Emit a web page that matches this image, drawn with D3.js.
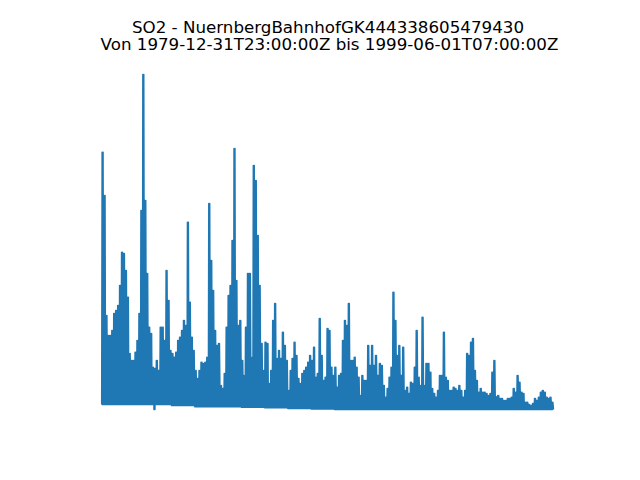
<!DOCTYPE html>
<html>
<head>
<meta charset="utf-8">
<script src="https://cdn.jsdelivr.net/npm/d3@7"></script>
<style>
  body { margin: 0; background: #fff; }
  svg { display: block; }
</style>
</head>
<body>
<div id="vis"></div>
<script>
// title text
const title1 = 'SO2 - NuernbergBahnhofGK444338605479430';
const title2 = 'Von 1979-12-31T23:00:00Z bis 1999-06-01T07:00:00Z';

const startDate = '1979-12-31T23:00:00Z';
const endDate = '1999-06-01T07:00:00Z';

// monthly maxima, Jan 1980 .. May 1999
const monthMax = [
  463, 385, 169, 133, 133, 142, 173, 178, 187, 223, 283, 281,   // 1980
  250, 202, 101,  88,  88, 103, 124, 173, 358, 603, 376, 245,   // 1981
  148, 137,  76,  74,  88,  70, 148, 148, 124, 250, 196, 106,   // 1982
  101,  94, 103, 124, 130, 142, 160, 151, 337, 193, 130, 106,   // 1983
   70,  56,  70,  85,  83,  85,  94, 371, 268, 214, 142, 115,   // 1984
  119,  43,  38,  65, 148, 205, 223, 304, 470, 232, 151, 160,   // 1985
   88,  61, 148, 245, 245,  94, 439, 412, 313, 223, 119,  70,   // 1986
  121, 119,  47,  70, 160, 191,  92, 106,  92, 139, 115,  88,   // 1987
   34,  70,  92, 121,  97,  56,  47,  65,  70,  76,  85,  97,   // 1988
   88, 112,  58,  65, 164,  97,  52,  58, 146, 142,  76,  61,   // 1989
   76,  40,  61,  65, 124, 160, 151, 191,  88,  88,  94,  76,   // 1990
   58,  25,  61,  52,  52, 115,  79, 115,  79,  97,  61,  83,   // 1991
   79,  43,  22,  38,  58,  76, 211, 160,  97, 115,  61, 112,   // 1992
   34,  40,  29,  49,  47,  76, 142,  58,  43, 166,  43,  83,   // 1993
   83,  67,  38,  29,  22,  34,  61,  61, 139,  58,  52,  34,   // 1994
   34,  40,  38,  34,  43,  34,  22,  34, 101,  97, 121, 128,   // 1995
   70,  52,  31,  38,  31,  31,  29,  25,  29,  67,  88,  23,   // 1996
   25,  20,  20,  16,  16,  20,  20,  22,  38,  31,  61,  49,   // 1997
   31,  29,  13,  13,   9,   7,  11,  20,  16,  22,  31,  34,   // 1998
   31,  22,  20,  22,  13                                       // 1999
];

// monthly minima
const monthMin = [
  9, 9, 9, 9, 9, 9, 9, 9, 9, 9, 9, 9,
  9, 9, 9, 9, 9, 9, 9, 9, 9, 9, 9, 9,
  9, 9, 9, 0, 9, 9, 9, 9, 9, 9, 9, 9,
  7, 7, 7, 7, 7, 7, 7, 7, 7, 7, 7, 7,
  5, 5, 5, 5, 5, 5, 5, 5, 5, 5, 5, 5,
  5, 5, 5, 5, 5, 5, 5, 5, 5, 5, 5, 5,
  4, 4, 4, 4, 4, 4, 4, 4, 4, 4, 4, 4,
  3, 3, 3, 3, 3, 3, 3, 3, 3, 3, 3, 3,
  2, 2, 2, 2, 2, 2, 2, 2, 2, 2, 2, 2,
  1, 1, 1, 1, 1, 1, 1, 1, 1, 1, 1, 1,
  0, 0, 0, 0, 0, 0, 0, 0, 0, 0, 0, 0,
  0, 0, 0, 0, 0, 0, 0, 0, 0, 0, 0, 0,
  0, 0, 0, 0, 0, 0, 0, 0, 0, 0, 0, 0,
  0, 0, 0, 0, 0, 0, 0, 0, 0, 0, 0, 0,
  0, 0, 0, 0, 0, 0, 0, 0, 0, 0, 0, 0,
  0, 0, 0, 0, 0, 0, 0, 0, 0, 0, 0, 0,
  0, 0, 0, 0, 0, 0, 0, 0, 0, 0, 0, 0,
  0, 0, 0, 0, 0, 0, 0, 0, 0, 0, 0, 0,
  0, 0, 0, 0, 0, 0, 0, 0, 0, 0, 0, 0,
  0, 0, 0, 0, 0
];

let width = 640;
let height = 480;

let svg = d3.select('#vis')
  .append('svg')
    .attr('width', width)
    .attr('height', height)
    .style('background-color', '#fff');

// build the series: each month swings between its minimum and maximum
// twice, so the dense hourly look of the original is kept
let series = [];
monthMax.forEach(function(v, i) {
  let y = 1980 + Math.floor(i / 12);
  let m = i % 12;
  series.push({ date: new Date(Date.UTC(y, m, 1)), value: monthMin[i] });
  series.push({ date: new Date(Date.UTC(y, m, 8)), value: v });
  series.push({ date: new Date(Date.UTC(y, m, 15)), value: monthMin[i] });
  series.push({ date: new Date(Date.UTC(y, m, 22)), value: v });
});
series.unshift({ date: new Date(startDate), value: monthMin[0] });
series.push({ date: new Date(endDate), value: monthMin[monthMin.length - 1] });

let xScale = d3.scaleUtc()
  .domain([new Date(startDate), new Date(endDate)])
  .range([101.7, 553.5]);

let yScale = d3.scaleLinear()
  .domain(d3.extent(series, d => d.value))
  .range([409.5, 74.5]);

let line = d3.line()
  .x(d => xScale(d.date))
  .y(d => yScale(d.value));

svg.append('path')
  .attr('d', line(series))
  .attr('fill', 'none')
  .attr('stroke', '#1f77b4')
  .attr('stroke-width', 1.5)
  .attr('stroke-linejoin', 'round');

// title, two lines in one text block
let title = svg.append('text')
  .attr('text-anchor', 'middle')
  .style('font-family', 'DejaVu Sans')
  .style('font-size', '16.7px');

title.append('tspan')
  .attr('x', 328)
  .attr('y', 32.5)
  .text(title1);

title.append('tspan')
  .attr('x', 329.5)
  .attr('y', 50)
  .text(title2);
</script>
</body>
</html>
